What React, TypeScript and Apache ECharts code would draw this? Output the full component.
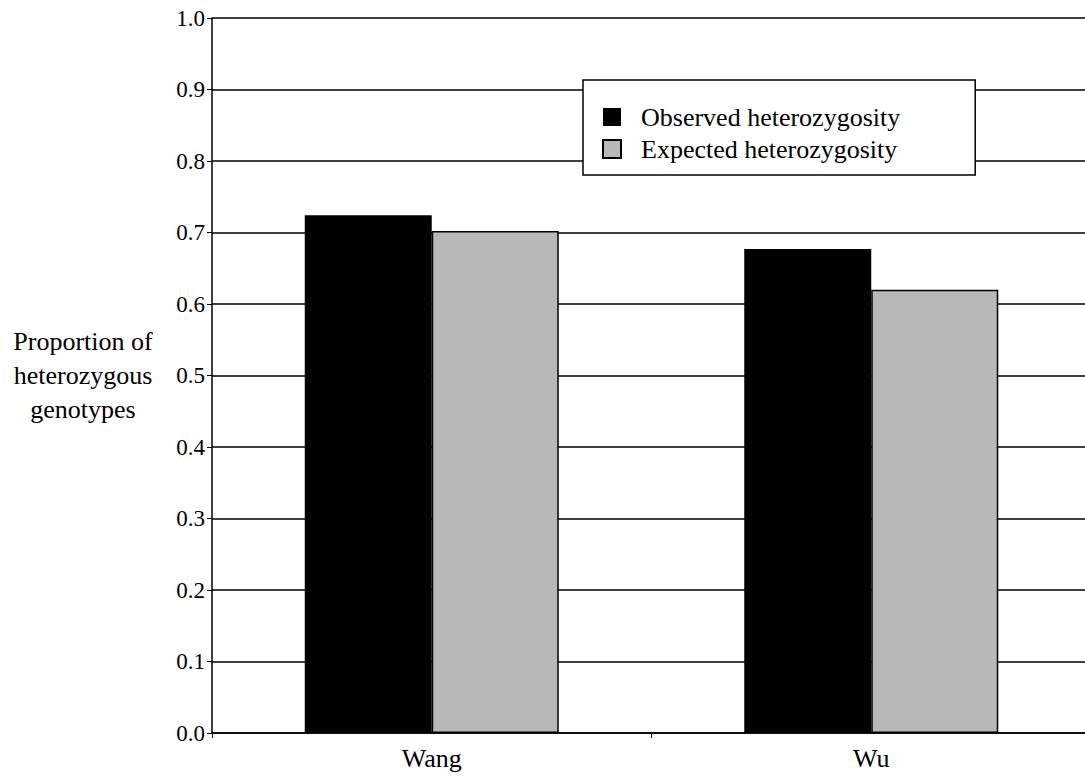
import React, { useEffect, useRef } from "react";
import * as echarts from "echarts";

// Study groups along the category axis
const categories = ["Wang", "Wu"];

// Proportion of heterozygous genotypes per group
const observedHeterozygosity = [0.724, 0.677];
const expectedHeterozygosity = [0.702, 0.62];

// Y-axis scale
const yMin = 0;
const yMax = 1;
const yStep = 0.1;

const SERIF = "Liberation Serif";

export default function App() {
  const ref = useRef<HTMLDivElement>(null);

  useEffect(() => {
    if (!ref.current) return;
    const chart = echarts.init(ref.current, undefined, { renderer: "svg" });

    chart.setOption({
      animation: false,
      backgroundColor: "#ffffff",
      textStyle: { fontFamily: SERIF, color: "#000" },
      // the plot runs a little past the visible right edge
      grid: { left: 212, right: 0, top: 18, bottom: 50, containLabel: false },
      legend: {
        orient: "vertical",
        left: 583,
        top: 80,
        padding: [24, 75, 13, 19],
        itemWidth: 18,
        itemHeight: 18,
        itemGap: 6,
        backgroundColor: "#ffffff",
        borderColor: "#000",
        borderWidth: 1.5,
        borderRadius: 0,
        icon: "rect",
        textStyle: {
          fontFamily: SERIF,
          fontSize: 26,
          lineHeight: 26,
          color: "#000",
          padding: [0, 0, 0, 15],
        },
        data: ["Observed heterozygosity", "Expected heterozygosity"],
      },
      xAxis: {
        type: "category",
        data: categories,
        axisLine: { show: true, lineStyle: { color: "#000", width: 1.5 } },
        axisTick: { show: true, length: 5, lineStyle: { color: "#000", width: 1 } },
        axisLabel: {
          fontFamily: SERIF,
          fontSize: 26,
          color: "#000",
          margin: 12,
        },
      },
      yAxis: {
        type: "value",
        min: yMin,
        max: yMax,
        interval: yStep,
        name: "Proportion of\nheterozygous\ngenotypes",
        nameLocation: "middle",
        nameRotate: 0,
        nameGap: 129,
        nameTextStyle: {
          fontFamily: SERIF,
          fontSize: 26,
          lineHeight: 34,
          color: "#000",
          align: "center",
          verticalAlign: "middle",
        },
        axisLine: { show: true, lineStyle: { color: "#000", width: 1.5 } },
        axisTick: { show: true, length: 5, lineStyle: { color: "#000", width: 1 } },
        axisLabel: {
          fontFamily: SERIF,
          fontSize: 23,
          color: "#000",
          margin: 7,
          formatter: (v: number) => v.toFixed(1),
        },
        splitLine: { show: true, lineStyle: { color: "#000", width: 1.5 } },
      },
      series: [
        {
          name: "Observed heterozygosity",
          type: "bar",
          data: observedHeterozygosity,
          barWidth: 127,
          barGap: "0%",
          itemStyle: { color: "#000000" },
        },
        {
          name: "Expected heterozygosity",
          type: "bar",
          data: expectedHeterozygosity,
          barWidth: 127,
          barGap: "0%",
          itemStyle: {
            color: "#b8b8b8",
            borderColor: "#000",
            borderWidth: 1.5,
          },
        },
      ],
    });

    return () => chart.dispose();
  }, []);

  return (
    <div
      style={{
        position: "absolute",
        left: 0,
        top: 0,
        width: 1085,
        height: 783,
        overflow: "hidden",
        background: "#fff",
      }}
    >
      <div ref={ref} style={{ width: 1091, height: 783 }} />
    </div>
  );
}
